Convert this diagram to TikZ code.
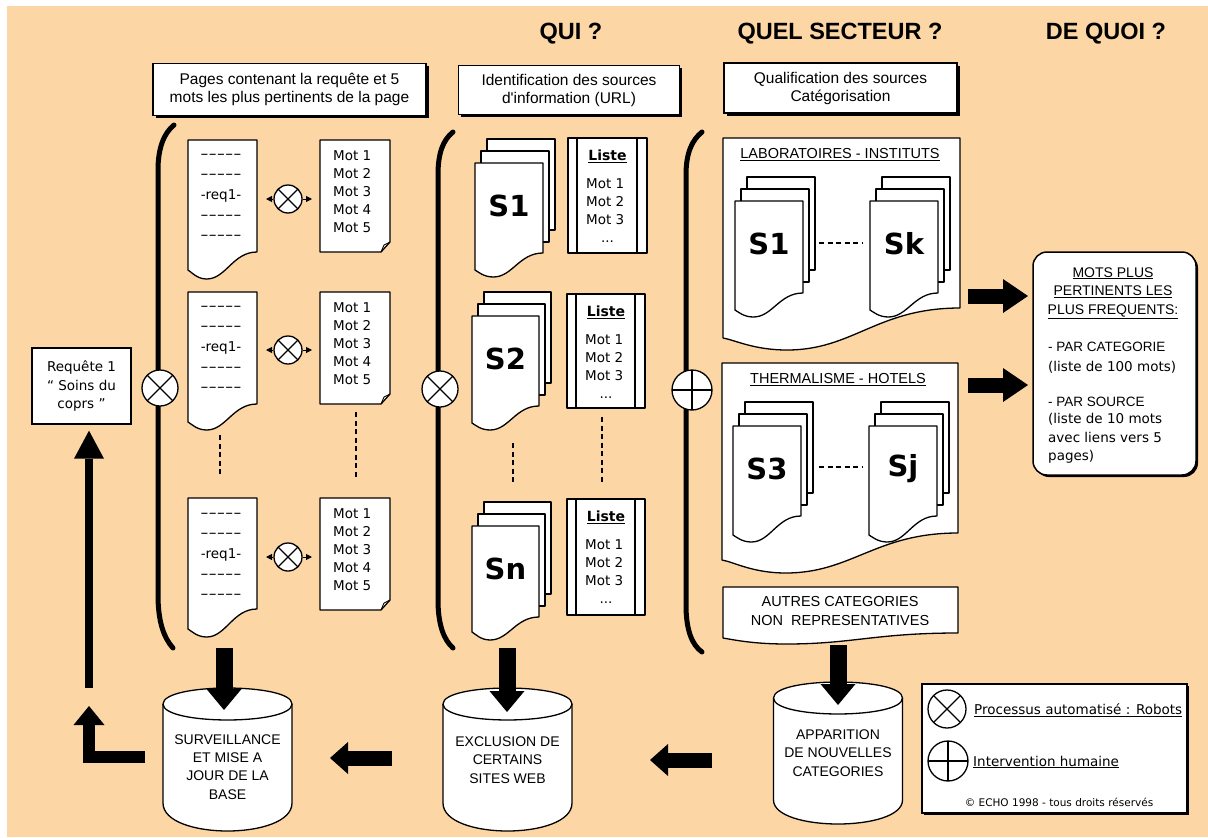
\documentclass[tikz,border=0pt]{standalone}
\usepackage{fontspec}
\usetikzlibrary{arrows.meta,shadows}
\newfontfamily\tah{DejaVu Sans}
\newfontfamily\ari{Liberation Sans}
\newfontfamily\dsh[FakeStretch=1.7]{DejaVu Sans}
\definecolor{peach}{RGB}{253,214,166}
\newcommand\myfs[2]{\fontsize{#1}{#2}\selectfont}

\newcommand\pagedoc[6]{%
 \filldraw[outl] (#1,#2) -- (#3,#2) -- (#3,#4)
  .. controls ({#3-0.35*(#3-#1)},#4) and ({#1+0.55*(#3-#1)},#6) .. ({#1+0.27*(#3-#1)},#6)
  .. controls ({#1+0.13*(#3-#1)},#6) and ({#1+0.05*(#3-#1)},{#5+2}) .. (#1,#5) -- cycle;}

\newcommand\stack[8]{%
 \filldraw[outl] ({#1+12},{#2-24}) rectangle ({#3+12},{#4-23});
 \filldraw[outl] ({#1+6},{#2-12}) rectangle ({#3+6},{#4-11});
 \pagedoc{#1}{#2}{#3}{#4}{#5}{#6}
 \node[slabel] (#8) at ({(#1+#3)/2},{#2+43}) {#7};}

\newcommand\motlist[5]{%
 \filldraw[outl] (#1,#2) -- (#3,#2) -- (#3,{#4-10}) -- ({#3-9},#4) -- (#1,#4) -- cycle;
 \draw[line width=0.9pt] ({#3-9},#4) -- ({#3-6},{#4-7}) -- (#3,{#4-10});
 \node[motstyle,anchor=west] (#5) at ({#1+13},{#2+52}) {Mot 1\\Mot 2\\Mot 3\\Mot 4\\Mot 5};}

\newcommand\liste[5]{%
 \filldraw[outl] (#1,#2) rectangle (#3,#4);
 \draw[line width=1.3pt] ({#1+9},#2) -- ({#1+9},#4) ({#3-10},#2) -- ({#3-10},#4);
 \node[listetitle] (#5) at ({(#1+#3)/2},{#2+18}) {\underline{Liste}};
 \node[motstyle,anchor=west] (#5m) at ({#1+18},{#2+63.5}) {Mot 1\\Mot 2\\Mot 3};
 \node[motstyle] (#5d) at ({(#1+#3)/2},{#2+104}) {...};}

\newcommand\cyl[7]{%
 \filldraw[outl] ({#1-64.5},#2) -- ({#1-64.5},#3) .. controls ({#1-64.5},{#3+1.333*#4}) and ({#1+64.5},{#3+1.333*#4}) .. ({#1+64.5},#3) -- ({#1+64.5},#2) .. controls ({#1+64.5},{#2-21.3}) and ({#1-64.5},{#2-21.3}) .. ({#1-64.5},#2) -- cycle;
 \draw[line width=1.3pt] ({#1-64.5},#2) .. controls ({#1-64.5},{#2+21.3}) and ({#1+64.5},{#2+21.3}) .. ({#1+64.5},#2);
 \node[cyltxt] (#5) at (#1,#7) {#6};}

\newcommand\dashline{-{}-{}-{}-{}-}

\begin{document}
\begin{tikzpicture}[x=1pt,y=-1pt,
 outl/.style={fill=white,draw=black,line width=1.3pt,line join=round},
 bracel/.style={line width=5pt,line cap=round},
 robot/.style={circle,draw,fill=white,line width=1.3pt,minimum size=#1,inner sep=0pt,
   path picture={\draw[line width=1.2pt] (path picture bounding box.north west) -- (path picture bounding box.south east) (path picture bounding box.north east) -- (path picture bounding box.south west);}},
 robot/.default=36pt,
 human/.style={circle,draw,fill=white,line width=1.3pt,minimum size=#1,inner sep=0pt,
   path picture={\draw[line width=1.2pt] (path picture bounding box.north) -- (path picture bounding box.south) (path picture bounding box.west) -- (path picture bounding box.east);}},
 human/.default=40pt,
 motstyle/.style={font=\tah\myfs{13.5}{18},align=left,inner sep=0pt},
 doctxt/.style={font=\tah\myfs{13.5}{20.3},align=center,inner sep=0pt},
 slabel/.style={font=\tah\bfseries\myfs{29}{30},inner sep=0pt},
 listetitle/.style={font=\tah\bfseries\myfs{14}{16},inner sep=0pt},
 cyltxt/.style={font=\ari\myfs{14}{18.3},align=center,inner sep=0pt},
 captxt/.style={font=\ari\myfs{14.5}{19},align=center,inner sep=0pt},
 hdr/.style={font=\ari\bfseries\myfs{23.5}{26},inner sep=0pt},
 lbox/.style={draw,fill=white,line width=1.3pt,align=center,font=\ari\myfs{15.5}{18},inner sep=0pt,
   drop shadow={shadow xshift=2.5pt,shadow yshift=-2.5pt,fill=black,opacity=1}},
 reqbox/.style={draw,fill=white,line width=1.3pt,align=center,font=\tah\myfs{13.5}{19},inner sep=0pt},
 motsbox/.style={draw,fill=white,line width=1.5pt,rounded corners=14pt,inner sep=0pt,
   drop shadow={shadow xshift=2pt,shadow yshift=-2pt,fill=black,opacity=1}},
 legbox/.style={draw,fill=white,line width=1.3pt,inner sep=0pt,
   drop shadow={shadow xshift=1.5pt,shadow yshift=-1.5pt,fill=black,opacity=1}},
 mcap/.style={font=\ari\myfs{13.5}{18.5},align=center,inner sep=0pt},
 mlow/.style={font=\tah\myfs{13.5}{18.5},align=left,inner sep=0pt},
 legtxt/.style={font=\tah\myfs{13.5}{16},inner sep=0pt},
 copyr/.style={font=\tah\myfs{10.5}{12},inner sep=0pt},
 smallarr/.style={line width=1pt,-{Triangle[length=6pt,width=6pt]}},
 dashv/.style={line width=1.2pt,dash pattern=on 5pt off 3.5pt},
 downarr/.style={line width=17pt,-{Triangle[length=21pt,width=35pt,line width=0pt]}},
 leftarr/.style={line width=15pt,-{Triangle[length=18pt,width=32pt,line width=0pt]}},
 rightarr/.style={line width=15pt,-{Triangle[length=25pt,width=34pt,line width=0pt]}},
 larr/.style={line width=12pt,line join=miter,-{Triangle[length=19pt,width=31pt,line width=0pt]}},
 uparr/.style={line width=8pt,-{Triangle[length=28pt,width=30pt,line width=0pt]}}
]
\useasboundingbox (0,0) rectangle (1208,838);
\fill[white] (0,0) rectangle (1208,838);
\fill[peach] (7,6) rectangle (1208,837);

% headers
\node[hdr] (h1) at (571,34) {QUI ?};
\node[hdr] (h2) at (840,34) {QUEL SECTEUR ?};
\node[hdr] (h3) at (1106,34) {DE QUOI ?};

% label boxes
\node[lbox,minimum width=273pt,minimum height=52pt] (t1) at (289.5,89.3) {Pages contenant la requête et 5\\mots les plus pertinents de la page};
\node[lbox,minimum width=221pt,minimum height=49pt] (t2) at (569,90) {Identification des sources\\d'information (URL)};
\node[lbox,minimum width=233pt,minimum height=50pt] (t3) at (840.5,88) {Qualification des sources\\Catégorisation};

% braces
\draw[bracel] (174,125) .. controls (164,133) and (158,148) .. (158,170) -- (158,595) .. controls (158,622) and (164,638) .. (173,648);
\draw[bracel] (453,132) .. controls (443,140) and (438,153) .. (438,175) -- (438,600) .. controls (438,625) and (444,640) .. (453,648);
\draw[bracel] (702,132) .. controls (692,140) and (686,153) .. (686,175) -- (686,605) .. controls (686,630) and (692,645) .. (702,652);
\node[robot=36pt] (x1) at (160,388) {};
\node[robot=36pt] (x2) at (440,389) {};
\node[human=40pt] (x3) at (692,390) {};

% request box and feedback
\node[reqbox,minimum width=99pt,minimum height=76pt] (req) at (81.5,386) {Requête 1\\“ Soins du\\coprs ”};

% column 1: pages
\pagedoc{188}{140}{257}{252}{270}{279}
\pagedoc{188}{292}{257}{404}{422}{430}
\pagedoc{188}{498}{257}{609}{629}{637}
\node[doctxt] (p1) at (221,197) {{\dsh\dashline}\\{\dsh\dashline}\\-req1-\\{\dsh\dashline}\\{\dsh\dashline}};
\node[doctxt] (p2) at (221,349) {{\dsh\dashline}\\{\dsh\dashline}\\-req1-\\{\dsh\dashline}\\{\dsh\dashline}};
\node[doctxt] (p3) at (221,556) {{\dsh\dashline}\\{\dsh\dashline}\\-req1-\\{\dsh\dashline}\\{\dsh\dashline}};
\motlist{320}{140}{390}{252}{m1}
\motlist{320}{292}{390}{404}{m2}
\motlist{320}{498}{390}{610}{m3}
\node[robot=28pt] (r1) at (288,199) {};
\node[robot=28pt] (r2) at (288,350) {};
\node[robot=28pt] (r3) at (288,557) {};
\coordinate (p1e) at (257,199); \coordinate (m1w) at (320,199);
\coordinate (p2e) at (257,350); \coordinate (m2w) at (320,350);
\coordinate (p3e) at (257,557); \coordinate (m3w) at (320,557);
\draw[smallarr,shorten >=9pt] (r1.west) -- (p1e);
\draw[smallarr,shorten >=8pt] (r1.east) -- (m1w);
\draw[smallarr,shorten >=9pt] (r2.west) -- (p2e);
\draw[smallarr,shorten >=8pt] (r2.east) -- (m2w);
\draw[smallarr,shorten >=9pt] (r3.west) -- (p3e);
\draw[smallarr,shorten >=8pt] (r3.east) -- (m3w);
\coordinate (g1a) at (220,435); \coordinate (g1b) at (220,477);
\coordinate (g2a) at (356,412); \coordinate (g2b) at (356,477);
\draw[dashv] (g1a) -- (g1b);
\draw[dashv] (g2a) -- (g2b);

% column 2: sources
\stack{475}{163}{543}{253}{270}{277}{S1}{s1}
\stack{472}{316}{539}{406}{423}{430}{S2}{s2}
\stack{472}{526}{539}{617}{632}{640}{Sn}{sn}
\liste{568}{138}{647}{253}{l1}
\liste{567}{294}{645}{408}{l2}
\liste{567}{499}{645}{615}{l3}
\coordinate (g3a) at (513,443); \coordinate (g3b) at (513,485);
\coordinate (g4a) at (602,417); \coordinate (g4b) at (602,482);
\draw[dashv] (g3a) -- (g3b);
\draw[dashv] (g4a) -- (g4b);

% column 3: categories
\pagedoc{723}{138}{960}{308}{338}{350}
\node[captxt] (labt) at (840,154.5) {\underline{LABORATOIRES - INSTITUTS}};
\stack{735}{201}{803}{293}{310}{317}{S1}{k1}
\stack{870}{201}{938}{293}{310}{317}{Sk}{kk}
\coordinate (d1a) at (819,243); \coordinate (d1b) at (863,243);
\draw[dashv] (d1a) -- (d1b);
\pagedoc{722}{363}{958}{533}{560}{573}
\node[captxt] (thet) at (838,379.5) {\underline{THERMALISME - HOTELS}};
\stack{733}{426}{801}{516}{535}{542}{S3}{t3s}
\stack{869}{426}{937}{516}{535}{542}{Sj}{tjs}
\coordinate (d2a) at (819,467); \coordinate (d2b) at (862,467);
\draw[dashv] (d2a) -- (d2b);
\pagedoc{723}{587}{958}{633}{638}{644}
\node[captxt] (autt) at (840,611.5) {AUTRES CATEGORIES\\NON\ \ REPRESENTATIVES};

% result box
\node[motsbox,minimum width=163pt,minimum height=223pt] (mots) at (1114.5,363.5) {};
\node[mcap,font=\ari\myfs{14}{18.5}] (mt) at (1113,293) {\underline{MOTS PLUS}\\\underline{PERTINENTS LES}\\\underline{PLUS FREQUENTS:}};
\node[mcap,anchor=west] (pc) at (1048,347) {- PAR CATEGORIE};
\node[mlow,anchor=west] (pc2) at (1048,367) {(liste de 100 mots)};
\node[mcap,anchor=west] (ps) at (1048,402) {- PAR SOURCE};
\node[mlow,anchor=west] (ps2) at (1048,438.5) {(liste de 10 mots\\avec liens vers 5\\pages)};

% cylinders
\cyl{227.5}{704}{803}{28}{c1}{SURVEILLANCE\\ET MISE A\\JOUR DE LA\\BASE}{767}
\cyl{507.5}{704}{803}{28}{c2}{EXCLUSION DE\\CERTAINS\\SITES WEB}{760}
\cyl{838}{698}{800}{24}{c3}{APPARITION\\DE NOUVELLES\\CATEGORIES}{753}

% legend
\node[legbox,minimum width=265pt,minimum height=129pt] (leg) at (1054.5,748.5) {};
\node[robot=38pt] (lx) at (947,709) {};
\node[human=40pt] (lh) at (948,761) {};
\node[legtxt,anchor=west] (lg1) at (974,710) {\underline{Processus automatisé : Robots}};
\node[legtxt,anchor=west] (lg2) at (973,762) {\underline{Intervention humaine}};
\node[copyr] (lg3) at (1059,802) {© ECHO 1998 - tous droits réservés};

% block arrows
\coordinate (a1s) at (224,648); \coordinate (a1e) at (224,710);
\coordinate (a2s) at (507,648); \coordinate (a2e) at (507,712);
\coordinate (a3s) at (838,645); \coordinate (a3e) at (838,705);
\draw[downarr] (a1s) -- (a1e);
\draw[downarr] (a2s) -- (a2e);
\draw[downarr] (a3s) -- (a3e);
\coordinate (b1s) at (392,758); \coordinate (b1e) at (330,758);
\coordinate (b2s) at (712,760); \coordinate (b2e) at (650,760);
\draw[leftarr] (b1s) -- (b1e);
\draw[leftarr] (b2s) -- (b2e);
\coordinate (ra1s) at (968,296); \coordinate (ra1e) at (1028,296);
\coordinate (ra2s) at (968,385); \coordinate (ra2e) at (1028,385);
\draw[rightarr] (ra1s) -- (ra1e);
\draw[rightarr] (ra2s) -- (ra2e);
\coordinate (la1) at (145,757); \coordinate (la2) at (89,757); \coordinate (la3) at (89,706);
\draw[larr] (la1) -- (la2) -- (la3);
\coordinate (ua1) at (89,688);
\draw[uparr,shorten >=6pt] (ua1) -- (ua1 |- req.south);
\end{tikzpicture}
\end{document}
